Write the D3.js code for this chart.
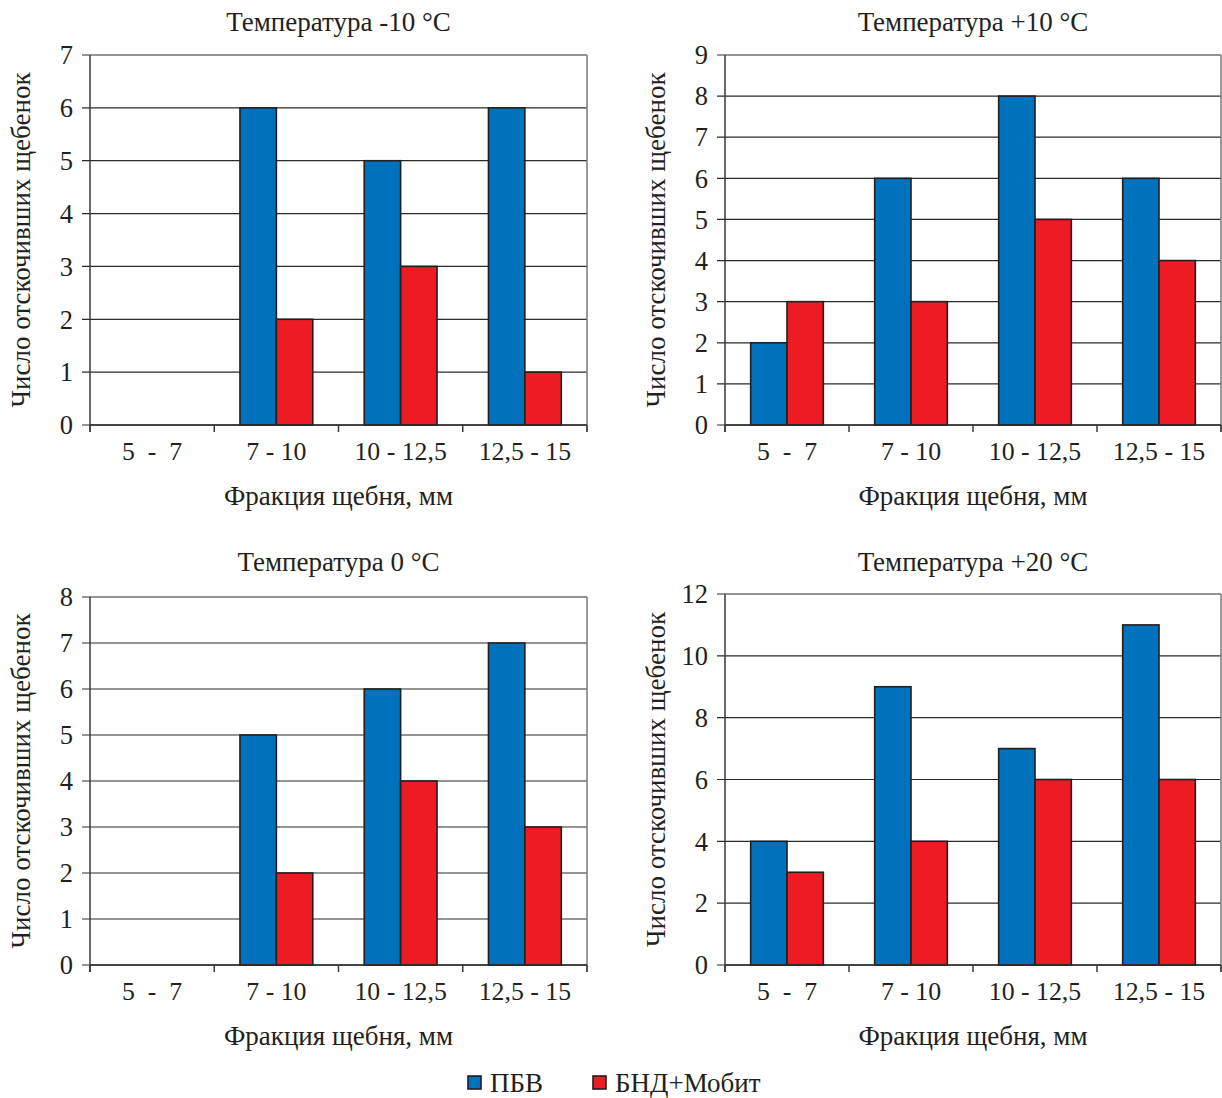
<!DOCTYPE html>
<html>
<head>
<meta charset="utf-8">
<script src="https://cdn.jsdelivr.net/npm/d3@7"></script>
<style>
  html, body { margin: 0; padding: 0; background: #fff; }
  svg { display: block; }
  text { font-family: "Liberation Serif", "Times New Roman", serif; fill: #231f20; }
</style>
</head>
<body>
<svg id="chart" width="1222" height="1098"></svg>
<script>
// Fractions of crushed stone, mm
const categories = ["5  -  7", "7 - 10", "10 - 12,5", "12,5 - 15"];
const seriesNames = ["ПБВ", "БНД+Мобит"];
const seriesColors = ["#0071bc", "#ed1c24"];

// Number of bounced stones per temperature
const titles = ["Температура -10 °C", "Температура +10 °C", "Температура 0 °C", "Температура +20 °C"];
const pbvValues = [
  [0, 6, 5, 6],
  [2, 6, 8, 6],
  [0, 5, 6, 7],
  [4, 9, 7, 11]
];
const bndValues = [
  [0, 2, 3, 1],
  [3, 3, 5, 4],
  [0, 2, 4, 3],
  [3, 4, 6, 6]
];
const yMax = [7, 9, 8, 12];
const yTickValues = [
  [0, 1, 2, 3, 4, 5, 6, 7],
  [0, 1, 2, 3, 4, 5, 6, 7, 8, 9],
  [0, 1, 2, 3, 4, 5, 6, 7, 8],
  [0, 2, 4, 6, 8, 10, 12]
];

const yLabel = "Число отскочивших щебенок";
const xLabel = "Фракция щебня, мм";

const svg = d3.select("#chart");

// Plot rectangles of the four panels; titleY is the baseline of the panel title
const panels = [
  { left: 90, right: 587, top: 55, bottom: 425, titleY: 31 },
  { left: 725, right: 1221, top: 55, bottom: 425, titleY: 31 },
  { left: 90, right: 587, top: 597, bottom: 965, titleY: 571 },
  { left: 725, right: 1221, top: 594, bottom: 965, titleY: 571 }
];

const FONT = 27;
const TICK_FONT = 25.8;

panels.forEach((p, i) => {
  const g = svg.append("g");

  const x = d3.scaleBand().domain(categories).range([p.left, p.right]).padding(0);
  const barW = x.bandwidth() * 0.293;
  const x1 = d3.scaleBand().domain(seriesNames)
    .range([(x.bandwidth() - 2 * barW) / 2, (x.bandwidth() + 2 * barW) / 2]).padding(0);
  const y = d3.scaleLinear().domain([0, yMax[i]]).range([p.bottom, p.top]);

  // horizontal gridlines, extending left as tick marks
  g.append("g").selectAll("line").data(yTickValues[i]).join("line")
    .attr("x1", p.left - 8).attr("x2", p.right)
    .attr("y1", d => y(d)).attr("y2", d => y(d))
    .attr("stroke", "#2b2b2b").attr("stroke-width", 1.2);

  // right border of the plot area
  g.append("line")
    .attr("x1", p.right).attr("x2", p.right)
    .attr("y1", p.top).attr("y2", p.bottom + 7)
    .attr("stroke", "#7a7a7a").attr("stroke-width", 1.5);

  // y axis line
  g.append("line")
    .attr("x1", p.left).attr("x2", p.left)
    .attr("y1", p.top).attr("y2", p.bottom + 7)
    .attr("stroke", "#3a3a3a").attr("stroke-width", 1.5);

  // y tick labels
  g.append("g").selectAll("text").data(yTickValues[i]).join("text")
    .attr("x", p.left - 17).attr("y", d => y(d))
    .attr("dy", "0.35em")
    .attr("text-anchor", "end")
    .attr("font-size", TICK_FONT + 0.7)
    .text(d => d);

  // bars
  const rows = categories.map((c, k) => ({ cat: c, vals: [pbvValues[i][k], bndValues[i][k]] }));
  const grp = g.append("g").selectAll("g").data(rows).join("g")
    .attr("transform", d => `translate(${x(d.cat)},0)`);
  grp.selectAll("rect")
    .data(d => d.vals.map((v, s) => ({ v, s })).filter(e => e.v > 0))
    .join("rect")
    .attr("x", e => x1(seriesNames[e.s]))
    .attr("width", x1.bandwidth())
    .attr("y", e => y(e.v))
    .attr("height", e => y(0) - y(e.v))
    .attr("fill", e => seriesColors[e.s])
    .attr("stroke", "#231f20").attr("stroke-width", 1.6);

  // x axis line and category boundary ticks
  g.append("line")
    .attr("x1", p.left).attr("x2", p.right)
    .attr("y1", p.bottom).attr("y2", p.bottom)
    .attr("stroke", "#2b2b2b").attr("stroke-width", 1.5);
  const bounds = categories.map(c => x(c)).concat([p.right]);
  g.append("g").selectAll("line").data(bounds).join("line")
    .attr("x1", d => d).attr("x2", d => d)
    .attr("y1", p.bottom).attr("y2", p.bottom + 7)
    .attr("stroke", "#3a3a3a").attr("stroke-width", 1.5);

  // category labels
  g.append("g").selectAll("text").data(categories).join("text")
    .attr("x", d => x(d) + x.bandwidth() / 2)
    .attr("y", p.bottom + 35)
    .attr("text-anchor", "middle")
    .attr("font-size", TICK_FONT)
    .style("white-space", "pre")
    .attr("xml:space", "preserve")
    .text(d => d);

  // axis titles
  const cx = (p.left + p.right) / 2;
  g.append("text")
    .attr("x", cx).attr("y", p.bottom + 80)
    .attr("text-anchor", "middle").attr("font-size", FONT)
    .text(xLabel);
  g.append("text")
    .attr("x", cx).attr("y", p.titleY)
    .attr("text-anchor", "middle").attr("font-size", FONT)
    .text(titles[i]);
  g.append("text")
    .attr("transform", `translate(${p.left - 60},${(p.top + p.bottom) / 2}) rotate(-90)`)
    .attr("text-anchor", "middle").attr("font-size", FONT)
    .text(yLabel);
});

// legend
const legend = svg.append("g");
const legendX = [468, 593];
seriesNames.forEach((name, s) => {
  legend.append("rect")
    .attr("x", legendX[s]).attr("y", 1076)
    .attr("width", 13).attr("height", 13)
    .attr("fill", seriesColors[s])
    .attr("stroke", "#231f20").attr("stroke-width", 1.6);
  legend.append("text")
    .attr("x", legendX[s] + 22).attr("y", 1083)
    .attr("dy", "0.35em")
    .attr("font-size", FONT)
    .text(name);
});
</script>
</body>
</html>
